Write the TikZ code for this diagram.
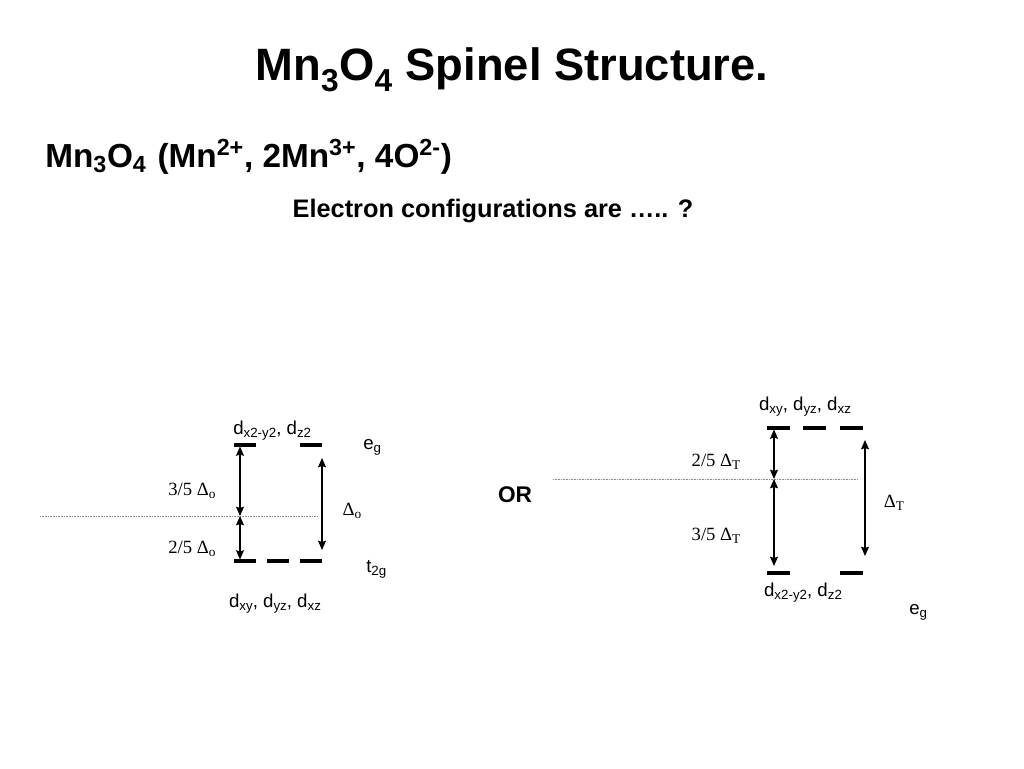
\documentclass[tikz,border=0pt]{standalone}
\usepackage{fontspec}
\setmainfont{Liberation Sans}
\newfontfamily\serifft{Liberation Serif}
\usetikzlibrary{arrows.meta}
\newcommand{\lsub}[1]{\raisebox{-2.6pt}{\fontsize{10}{10}\selectfont #1}}
\begin{document}
\begin{tikzpicture}[x=0.75pt,y=-0.75pt,
  bar/.style={line width=2.4pt},
  dim/.style={{Stealth[length=7pt,width=6pt,inset=1pt]}-{Stealth[length=7pt,width=6pt,inset=1pt]}, line width=0.8pt},
  guide/.style={black!45, line width=0.4pt, dash pattern=on 0.6pt off 0.6pt},
  lbl/.style={font=\fontsize{14}{16}\selectfont, inner sep=0pt},
  slbl/.style={font=\serifft\fontsize{14}{16}\selectfont, inner sep=0pt},
  ttl/.style={font=\bfseries\fontsize{34}{40}\selectfont, inner sep=0pt},
  sub/.style={font=\bfseries\fontsize{25}{30}\selectfont, inner sep=0pt},
  txt/.style={font=\bfseries\fontsize{19}{22}\selectfont, inner sep=0pt}]
\useasboundingbox (0,0) rectangle (1024,768);
\fill[white] (0,0) rectangle (1024,768);

% titles
\node[ttl] (title) at (512,70) {Mn\textsubscript{3}O\textsubscript{4} Spinel Structure.};
\node[sub, anchor=west] (formula) at (45,157) {Mn\textsubscript{3}O\textsubscript{4}\hspace{0.05em} (Mn\textsuperscript{2+}, 2Mn\textsuperscript{3+}, 4O\textsuperscript{2-})};
\node[txt] (question) at (493,211) {Electron configurations are ….. ?};

% ---------- left (octahedral) ----------
\coordinate (La1) at (234,445); \coordinate (La2) at (256,445);
\coordinate (Lb1) at (300,445); \coordinate (Lb2) at (322,445);
\coordinate (Lc1) at (234,561); \coordinate (Lc2) at (256,561);
\coordinate (Ld1) at (267,561); \coordinate (Ld2) at (289,561);
\coordinate (Le1) at (300,561); \coordinate (Le2) at (322,561);
\draw[bar] (La1) -- (La2);
\draw[bar] (Lb1) -- (Lb2);
\draw[bar] (Lc1) -- (Lc2);
\draw[bar] (Ld1) -- (Ld2);
\draw[bar] (Le1) -- (Le2);
\coordinate (Lg1) at (40,516); \coordinate (Lg2) at (318,516);
\draw[guide] (Lg1) -- (Lg2);
\coordinate (Lt) at (240,446.5); \coordinate (Lm) at (240,516); \coordinate (Lbt) at (240,559.5);
\draw[dim] (Lt) -- (Lm);
\draw[dim] (Lm) -- (Lbt);
\coordinate (Lr1) at (322,458); \coordinate (Lr2) at (322,550);
\draw[dim] (Lr1) -- (Lr2);

\node[lbl, anchor=base west] (Lup) at (233,434) {d\lsub{x2-y2}, d\lsub{z2}};
\node[lbl, anchor=base west] (Leg) at (363,449) {e\lsub{g}};
\node[slbl] (L35) at (192,491) {3/5 Δ\lsub{o}};
\node[slbl] (LD) at (352,511) {Δ\lsub{o}};
\node[slbl] (L25) at (192,549) {2/5 Δ\lsub{o}};
\node[lbl, anchor=base west] (Lt2g) at (366,572) {t\lsub{2g}};
\node[lbl, anchor=base] (Llow) at (275,607) {d\lsub{xy}, d\lsub{yz}, d\lsub{xz}};

\node[font=\bfseries\fontsize{17}{20}\selectfont, inner sep=0pt] (or) at (515,495) {OR};

% ---------- right (tetrahedral) ----------
\coordinate (Ra1) at (767,428); \coordinate (Ra2) at (790,428);
\coordinate (Rb1) at (803,428); \coordinate (Rb2) at (826,428);
\coordinate (Rc1) at (840,428); \coordinate (Rc2) at (863,428);
\coordinate (Rd1) at (767,573); \coordinate (Rd2) at (790,573);
\coordinate (Re1) at (840,573); \coordinate (Re2) at (863,573);
\draw[bar] (Ra1) -- (Ra2);
\draw[bar] (Rb1) -- (Rb2);
\draw[bar] (Rc1) -- (Rc2);
\draw[bar] (Rd1) -- (Rd2);
\draw[bar] (Re1) -- (Re2);
\coordinate (Rg1) at (553,479); \coordinate (Rg2) at (858,479);
\draw[guide] (Rg1) -- (Rg2);
\coordinate (Rt) at (774,429.5); \coordinate (Rm) at (774,479); \coordinate (Rbt) at (774,566);
\draw[dim] (Rt) -- (Rm);
\draw[dim] (Rm) -- (Rbt);
\coordinate (Rr1) at (865,440); \coordinate (Rr2) at (865,556);
\draw[dim] (Rr1) -- (Rr2);

\node[lbl, anchor=base] (Rup) at (805,410) {d\lsub{xy}, d\lsub{yz}, d\lsub{xz}};
\node[slbl] (R25) at (716,462) {2/5 Δ\lsub{T}};
\node[slbl] (RD) at (894,503) {Δ\lsub{T}};
\node[slbl] (R35) at (716,536) {3/5 Δ\lsub{T}};
\node[lbl, anchor=base] (Rlow) at (803,596) {d\lsub{x2-y2}, d\lsub{z2}};
\node[lbl, anchor=base west] (Reg) at (909,614) {e\lsub{g}};
\end{tikzpicture}
\end{document}
